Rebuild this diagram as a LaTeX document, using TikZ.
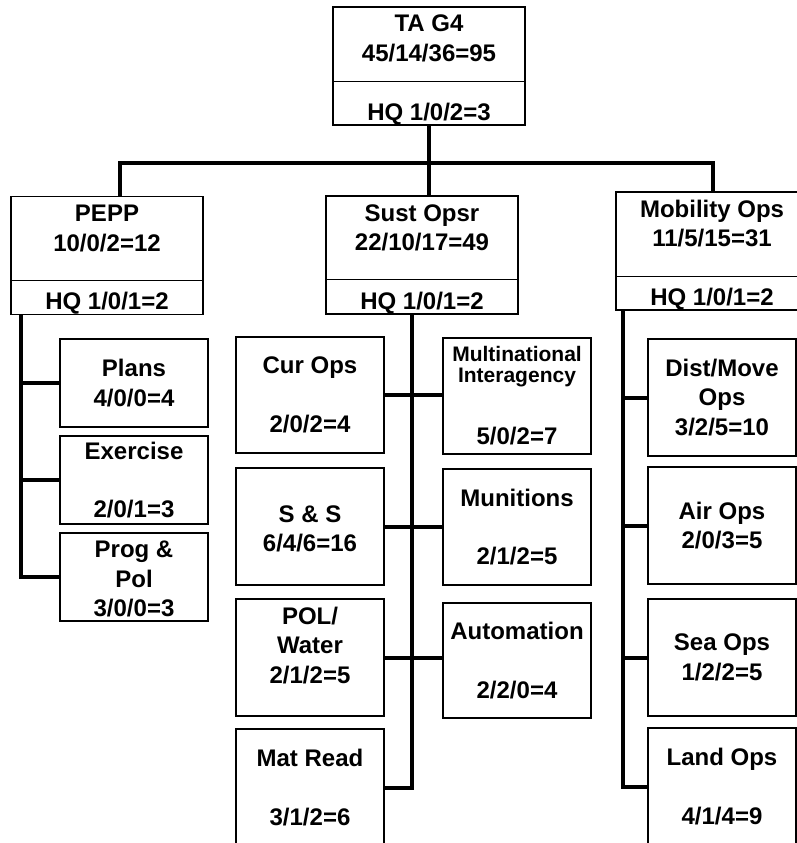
\documentclass[tikz,border=0pt]{standalone}
\usepackage{fontspec}
\setmainfont{Liberation Sans}
\begin{document}
\begin{tikzpicture}[x=1pt,y=-1pt,font=\fontsize{24}{29.5}\selectfont\bfseries,
  unit/.style={draw,line width=1.6pt,align=center,inner sep=0pt,minimum width=148,minimum height=117},
  head/.style={unit,minimum width=192},
  link/.style={line width=4pt},
  split/.style={line width=1pt}]
  \useasboundingbox (0,0) rectangle (797,843);
  \node[head,minimum height=118] (tag4) at (429,66) {\rule{0pt}{25pt}TA G4\\45/14/36=95\\[29.5pt]HQ 1/0/2=3};
  \node[head] (pepp) at (107,255.5) {\rule{0pt}{25pt}PEPP\\10/0/2=12\\[29pt]HQ 1/0/1=2};
  \node[head,minimum height=118] (sust) at (422,255) {\rule{0pt}{25pt}Sust Opsr\\22/10/17=49\\[29pt]HQ 1/0/1=2};
  \node[head,minimum height=116] (mob) at (712,251) {\rule{0pt}{25pt}Mobility Ops\\11/5/15=31\\[29pt]HQ 1/0/1=2};
  \draw[split] ([yshift=44]tag4.south west) -- ([yshift=44]tag4.south east);
  \draw[split] ([yshift=35]pepp.south west) -- ([yshift=35]pepp.south east);
  \draw[split] ([yshift=35]sust.south west) -- ([yshift=35]sust.south east);
  \draw[split] ([yshift=34]mob.south west) -- ([yshift=34]mob.south east);
  \coordinate (busL) at (120,163);
  \coordinate (busR) at (713,163);
  \draw[link] (tag4.south) -- (tag4.south |- busL);
  \draw[link] (busL |- pepp.north) -- (busL) -- (busR) -- (busR |- mob.north);
  \draw[link] (tag4.south |- busL) -- (tag4.south |- sust.north);

  \node[unit,minimum height=88] (plans) at (134,383) {Plans\\4/0/0=4};
  \node[unit,minimum height=88] (exer) at (134,480) {Exercise\\[29pt]2/0/1=3};
  \node[unit,minimum height=88] (prog) at (134,577) {\rule{0pt}{21pt}Prog \&\\Pol\\3/0/0=3};
  \coordinate (peppT) at ([xshift=11]pepp.south west);
  \draw[link] (peppT) |- (prog.west);
  \draw[link] (plans.west) -- (plans.west -| peppT);
  \draw[link] (exer.west) -- (exer.west -| peppT);

  \node[unit,minimum height=116] (curops) at (310,395) {Cur Ops\\[29pt]2/0/2=4};
  \node[unit,minimum height=116,font=\fontsize{21}{21}\selectfont\bfseries] (multi) at (517,396) {Multinational\\Interagency\\[39pt]\fontsize{24}{29.5}\selectfont 5/0/2=7};
  \node[unit] (ss) at (310,526.5) {\rule{0pt}{21pt}S \& S\\6/4/6=16};
  \node[unit,minimum height=116] (muni) at (517,527) {Munitions\\[29pt]2/1/2=5};
  \node[unit] (polw) at (310,657.5) {POL/\\Water\\2/1/2=5\\[-5pt]\mbox{}};
  \node[unit,minimum height=115] (auto) at (517,660.5) {Automation\\[29pt]2/2/0=4};
  \node[unit] (matread) at (310,787.5) {Mat Read\\[29pt]3/1/2=6};
  \coordinate (sustT) at ([xshift=-10]sust.south);
  \draw[link] (sustT) |- (matread.east);
  \draw[link] (curops.east) -- (curops.east -| multi.west);
  \draw[link] (ss.east) -- (ss.east -| muni.west);
  \draw[link] (polw.east) -- (polw.east -| auto.west);

  \node[unit] (dist) at (722,397.5) {Dist/Move\\Ops\\3/2/5=10};
  \node[unit] (air) at (722,525.5) {Air Ops\\2/0/3=5};
  \node[unit] (sea) at (722,657.5) {Sea Ops\\1/2/2=5};
  \node[unit] (land) at (722,786.5) {Land Ops\\[29pt]4/1/4=9};
  \coordinate (mobT) at ([xshift=8]mob.south west);
  \draw[link] (mobT) |- (land.west);
  \draw[link] (dist.west) -- (dist.west -| mobT);
  \draw[link] (air.west) -- (air.west -| mobT);
  \draw[link] (sea.west) -- (sea.west -| mobT);
\end{tikzpicture}
\end{document}
